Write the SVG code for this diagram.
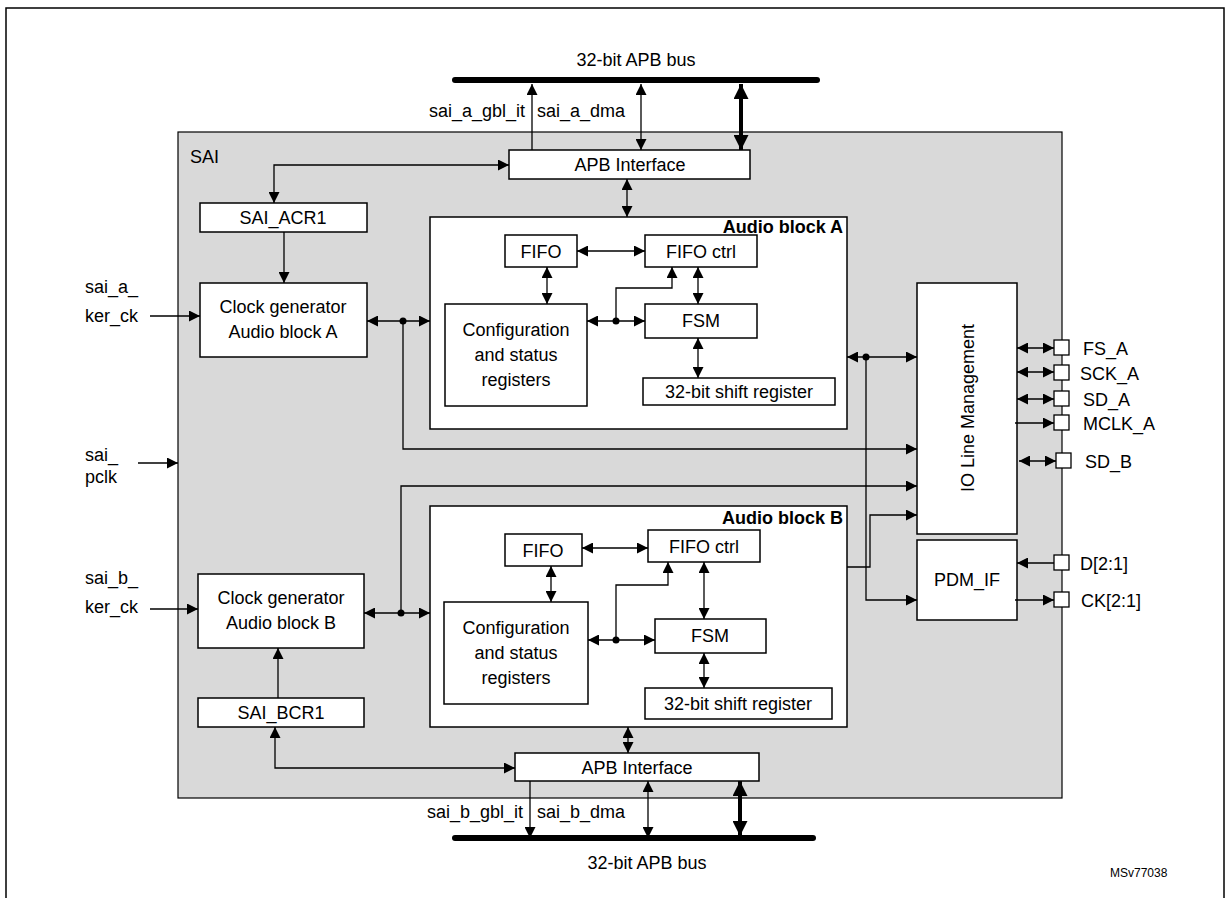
<svg xmlns="http://www.w3.org/2000/svg" width="1230" height="898" viewBox="0 0 1230 898">
<style>
text{font-family:"Liberation Sans",Arial,sans-serif;font-size:18px;fill:#000}
.b{fill:#fff;stroke:#000;stroke-width:1.5}
.l{fill:none;stroke:#000;stroke-width:1.3}
.c{text-anchor:middle}
.t{font-weight:bold}
</style>
<defs>
<marker id="a" viewBox="0 0 10 10" refX="10" refY="5" markerWidth="12" markerHeight="11" markerUnits="userSpaceOnUse" orient="auto-start-reverse"><path d="M0,0L10,5L0,10z" fill="#000"/></marker>
<marker id="A" viewBox="0 0 10 10" refX="10" refY="5" markerWidth="18" markerHeight="15" markerUnits="userSpaceOnUse" orient="auto-start-reverse"><path d="M0,0L10,5L0,10z" fill="#000"/></marker>
</defs>
<rect x="6" y="8" width="1218" height="900" fill="#fff" stroke="#000" stroke-width="1.5"/>
<g id="sai"><rect x="178" y="132" width="884" height="666" fill="#d9d9d9" stroke="#000" stroke-width="1.2"/><text x="190" y="163">SAI</text></g>
<g id="busA"><line x1="455" y1="80" x2="817" y2="80" stroke="#000" stroke-width="6" stroke-linecap="round"/><text class="c" x="636" y="66">32-bit APB bus</text></g>
<g id="busB"><line x1="455" y1="838" x2="813" y2="838" stroke="#000" stroke-width="6" stroke-linecap="round"/><text class="c" x="647" y="869">32-bit APB bus</text></g>
<g id="apbA"><rect class="b" x="509" y="150" width="241" height="29"/><text class="c" x="630" y="171">APB Interface</text></g>
<g id="apbB"><rect class="b" x="515" y="753" width="244" height="28"/><text class="c" x="637" y="774">APB Interface</text></g>
<g id="acr"><rect class="b" x="200" y="203" width="167" height="29"/><text class="c" x="283" y="224">SAI_ACR1</text></g>
<g id="bcr"><rect class="b" x="198" y="698" width="166" height="29"/><text class="c" x="281" y="719">SAI_BCR1</text></g>
<g id="clkA"><rect class="b" x="200" y="283" width="167" height="74"/><text class="c" x="283" y="313">Clock generator</text><text class="c" x="283" y="338">Audio block A</text></g>
<g id="clkB"><rect class="b" x="198" y="574" width="166" height="74"/><text class="c" x="281" y="604">Clock generator</text><text class="c" x="281" y="629">Audio block B</text></g>
<g id="blkA"><rect class="b" x="430" y="217" width="417" height="212"/><text class="t" x="843" y="233" text-anchor="end">Audio block A</text>
<rect class="b" x="505" y="235" width="72" height="32"/><text class="c" x="541" y="258">FIFO</text>
<rect class="b" x="645" y="235" width="112" height="32"/><text class="c" x="701" y="258">FIFO ctrl</text>
<rect class="b" x="445" y="304" width="142" height="102"/><text class="c" x="516" y="336">Configuration</text><text class="c" x="516" y="361">and status</text><text class="c" x="516" y="386">registers</text>
<rect class="b" x="645" y="304" width="112" height="34"/><text class="c" x="701" y="327">FSM</text>
<rect class="b" x="643" y="378" width="192" height="27"/><text class="c" x="739" y="398">32-bit shift register</text></g>
<g id="blkB"><rect class="b" x="430" y="506" width="417" height="221"/><text class="t" x="843" y="524" text-anchor="end">Audio block B</text>
<rect class="b" x="505" y="534" width="77" height="32"/><text class="c" x="543" y="557">FIFO</text>
<rect class="b" x="648" y="530" width="112" height="32"/><text class="c" x="704" y="553">FIFO ctrl</text>
<rect class="b" x="444" y="602" width="144" height="102"/><text class="c" x="516" y="634">Configuration</text><text class="c" x="516" y="659">and status</text><text class="c" x="516" y="684">registers</text>
<rect class="b" x="655" y="619" width="111" height="34"/><text class="c" x="710" y="642">FSM</text>
<rect class="b" x="645" y="688" width="187" height="31"/><text class="c" x="738" y="710">32-bit shift register</text></g>
<g id="io"><rect class="b" x="917" y="283" width="100" height="251"/><text class="c" transform="translate(974 408) rotate(-90)">IO Line Management</text></g>
<g id="pdm"><rect class="b" x="917" y="540" width="100" height="80"/><text class="c" x="967" y="586">PDM_IF</text></g>
<g id="pins" fill="#fff" stroke="#000" stroke-width="1.3">
<rect x="1054" y="340" width="15" height="15"/><rect x="1054" y="365" width="15" height="15"/><rect x="1054" y="391" width="15" height="15"/><rect x="1054" y="415" width="15" height="15"/><rect x="1056" y="453" width="15" height="15"/><rect x="1054" y="555" width="15" height="15"/><rect x="1054" y="592" width="15" height="15"/></g>
<g id="labels">
<text x="1083" y="355">FS_A</text><text x="1080" y="380">SCK_A</text><text x="1083" y="406">SD_A</text><text x="1083" y="430">MCLK_A</text><text x="1085" y="468">SD_B</text><text x="1080" y="570">D[2:1]</text><text x="1081" y="607">CK[2:1]</text>
<text x="85" y="293">sai_a_</text><text x="85" y="322">ker_ck</text><text x="85" y="461">sai_</text><text x="85" y="483">pclk</text><text x="85" y="584">sai_b_</text><text x="85" y="613">ker_ck</text>
<text x="525" y="117" text-anchor="end">sai_a_gbl_it</text><text x="537" y="117">sai_a_dma</text>
<text x="523" y="818" text-anchor="end">sai_b_gbl_it</text><text x="537" y="818">sai_b_dma</text>
<text x="1110" y="877" style="font-size:12px">MSv77038</text></g>
<g id="connectors" class="l">
<path class="l" d="M532,150V84" marker-end="url(#a)"/>
<path class="l" d="M641,150V84" marker-start="url(#a)" marker-end="url(#a)"/>
<line x1="741" y1="150" x2="741" y2="84" stroke="#000" stroke-width="4" marker-start="url(#A)" marker-end="url(#A)"/>
<path class="l" d="M627,179V217" marker-start="url(#a)" marker-end="url(#a)"/>
<path class="l" d="M274,203V165H509" marker-start="url(#a)" marker-end="url(#a)"/>
<path class="l" d="M284,232V283" marker-end="url(#a)"/>
<path class="l" d="M150,316H200" marker-end="url(#a)"/>
<path class="l" d="M138,463H178" marker-end="url(#a)"/>
<path class="l" d="M150,609H198" marker-end="url(#a)"/>
<path class="l" d="M367,321H430" marker-start="url(#a)" marker-end="url(#a)"/>
<path class="l" d="M403,321V449H917" marker-end="url(#a)"/>
<path class="l" d="M364,613H430" marker-start="url(#a)" marker-end="url(#a)"/>
<path class="l" d="M401,613V486H917" marker-end="url(#a)"/>
<path class="l" d="M577,251H645" marker-start="url(#a)" marker-end="url(#a)"/>
<path class="l" d="M547,267V304" marker-start="url(#a)" marker-end="url(#a)"/>
<path class="l" d="M587,321H645" marker-start="url(#a)" marker-end="url(#a)"/>
<path class="l" d="M616,321V288H672V267" marker-end="url(#a)"/>
<path class="l" d="M698,267V304" marker-start="url(#a)" marker-end="url(#a)"/>
<path class="l" d="M698,338V378" marker-start="url(#a)" marker-end="url(#a)"/>
<path class="l" d="M582,548H648" marker-start="url(#a)" marker-end="url(#a)"/>
<path class="l" d="M551,566V602" marker-start="url(#a)" marker-end="url(#a)"/>
<path class="l" d="M588,640H655" marker-start="url(#a)" marker-end="url(#a)"/>
<path class="l" d="M616,640V585H668V562" marker-end="url(#a)"/>
<path class="l" d="M704,562V619" marker-start="url(#a)" marker-end="url(#a)"/>
<path class="l" d="M704,653V688" marker-start="url(#a)" marker-end="url(#a)"/>
<path class="l" d="M628,727V753" marker-start="url(#a)" marker-end="url(#a)"/>
<path class="l" d="M278,698V648" marker-end="url(#a)"/>
<path class="l" d="M275,727V768H515" marker-start="url(#a)" marker-end="url(#a)"/>
<path class="l" d="M530,781V838" marker-end="url(#a)"/>
<path class="l" d="M648,781V838" marker-start="url(#a)" marker-end="url(#a)"/>
<line x1="740" y1="781" x2="740" y2="836" stroke="#000" stroke-width="4" marker-start="url(#A)" marker-end="url(#A)"/>
<path class="l" d="M847,357H917" marker-start="url(#a)" marker-end="url(#a)"/>
<path class="l" d="M866,357V600H917" marker-end="url(#a)"/>
<path class="l" d="M847,567H870V515H917" marker-end="url(#a)"/>
<path class="l" d="M1017,348H1054" marker-start="url(#a)" marker-end="url(#a)"/>
<path class="l" d="M1017,372H1054" marker-start="url(#a)" marker-end="url(#a)"/>
<path class="l" d="M1017,399H1054" marker-start="url(#a)" marker-end="url(#a)"/>
<path class="l" d="M1015,423H1054" marker-end="url(#a)"/>
<path class="l" d="M1019,461H1056" marker-start="url(#a)" marker-end="url(#a)"/>
<path class="l" d="M1054,563H1017" marker-end="url(#a)"/>
<path class="l" d="M1015,600H1054" marker-end="url(#a)"/>
<g fill="#000" stroke="none"><circle cx="403" cy="321" r="3.5"/><circle cx="401" cy="613" r="3.5"/><circle cx="616" cy="321" r="3.5"/><circle cx="616" cy="640" r="3.5"/><circle cx="866" cy="357" r="3.5"/></g>
</g>
</svg>
